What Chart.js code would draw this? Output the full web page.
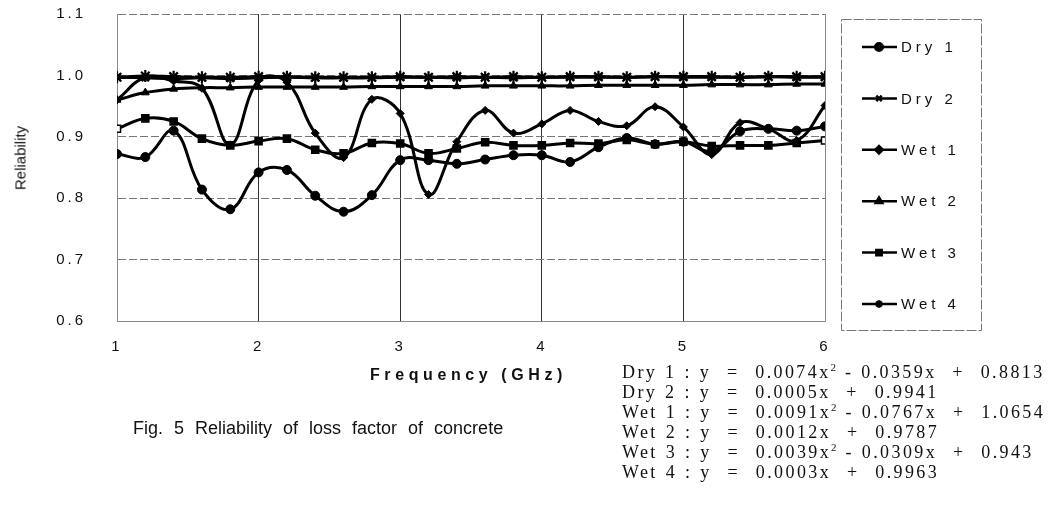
<!DOCTYPE html>
<html>
<head>
<meta charset="utf-8">
<script src="https://cdn.jsdelivr.net/npm/chart.js@4.4.1/dist/chart.umd.min.js"></script>
<style>
html,body{margin:0;padding:0;background:#fff;}
#wrap{position:relative;width:1052px;height:510px;overflow:hidden;}
#c{position:absolute;left:0;top:0;}
.t{position:absolute;white-space:pre;color:#111;}
#ytitle{left:20px;top:158px;font:15px "Liberation Sans",Arial,sans-serif;transform:translate(-50%,-50%) rotate(-90deg);}
#xtitle{left:370px;top:365px;font:bold 16px "Liberation Sans",Arial,sans-serif;letter-spacing:4.6px;line-height:20px;}
#cap{left:133px;top:417px;font:18px "Liberation Sans",Arial,sans-serif;word-spacing:6px;line-height:22px;}
#eqs{position:absolute;left:622px;top:362px;font:18px "Liberation Serif","Times New Roman",serif;line-height:20px;color:#111;letter-spacing:2.4px;word-spacing:1px;}
#eqs div{white-space:pre;height:20px;line-height:20px;}
#eqs sup{font-size:11px;line-height:0;vertical-align:7px;letter-spacing:1px;}
</style>
</head>
<body>
<div id="wrap">
<canvas id="c" width="1052" height="510"></canvas>
<div class="t" id="ytitle">Reliability</div>
<div class="t" id="xtitle">Frequency (GHz)</div>
<div class="t" id="cap">Fig. 5 Reliability of loss factor of concrete</div>
<div id="eqs"></div>
</div>
<script>
// ---- data ----
const freq = [1.0,1.2,1.4,1.6,1.8,2.0,2.2,2.4,2.6,2.8,3.0,3.2,3.4,3.6,3.8,4.0,4.2,4.4,4.6,4.8,5.0,5.2,5.4,5.6,5.8,6.0];
const dry1 = [0.872,0.867,0.910,0.814,0.782,0.842,0.846,0.804,0.778,0.805,0.862,0.862,0.856,0.863,0.870,0.870,0.859,0.883,0.898,0.888,0.892,0.876,0.909,0.913,0.910,0.917];
const dry2 = [0.997,0.996,0.995,0.996,0.995,0.996,0.997,0.996,0.996,0.996,0.997,0.997,0.996,0.997,0.996,0.997,0.997,0.997,0.997,0.998,0.997,0.997,0.997,0.998,0.997,0.997];
const wet1 = [0.960,0.997,0.991,0.979,0.887,0.992,0.989,0.906,0.866,0.961,0.938,0.806,0.892,0.943,0.906,0.921,0.943,0.925,0.918,0.949,0.916,0.871,0.923,0.913,0.894,0.951];
const wet2 = [0.960,0.972,0.978,0.980,0.980,0.981,0.981,0.981,0.981,0.982,0.982,0.982,0.982,0.983,0.983,0.983,0.983,0.984,0.984,0.984,0.984,0.985,0.985,0.985,0.986,0.986];
const wet3 = [0.913,0.930,0.925,0.897,0.886,0.893,0.897,0.879,0.873,0.890,0.889,0.873,0.881,0.891,0.886,0.886,0.890,0.889,0.895,0.888,0.892,0.885,0.886,0.886,0.890,0.894];
const wet4 = [0.997,0.999,0.998,0.997,0.997,0.998,0.998,0.997,0.997,0.997,0.998,0.997,0.998,0.997,0.998,0.997,0.998,0.998,0.997,0.998,0.998,0.998,0.997,0.998,0.998,0.998];
const seriesNames = ["Dry 1","Dry 2","Wet 1","Wet 2","Wet 3","Wet 4"];
const xTicks = [1,2,3,4,5,6];
const yTicks = [0.6,0.7,0.8,0.9,1.0,1.1];
const equations = [
  ["Dry 1", "0.0074x", "2", " - 0.0359x  +  0.8813"],
  ["Dry 2", "0.0005x  +  0.9941", "", ""],
  ["Wet 1", "0.0091x", "2", " - 0.0767x  +  1.0654"],
  ["Wet 2", "0.0012x  +  0.9787", "", ""],
  ["Wet 3", "0.0039x", "2", " - 0.0309x  +  0.943"],
  ["Wet 4", "0.0003x  +  0.9963", "", ""]
];

// equations as real text
const eqBox = document.getElementById('eqs');
equations.forEach(e => {
  const d = document.createElement('div');
  d.appendChild(document.createTextNode(e[0] + " : y  =  " + e[1]));
  if (e[2]) {
    const s = document.createElement('sup');
    s.textContent = e[2];
    d.appendChild(s);
    d.appendChild(document.createTextNode(e[3]));
  }
  eqBox.appendChild(d);
});

const styles = [
  {pointStyle:'circle', pointRadius:4.5, pointBorderWidth:1},
  {pointStyle:'crossRot', pointRadius:5, pointBorderWidth:2},
  {pointStyle:'rectRot', pointRadius:4, pointBorderWidth:1},
  {pointStyle:'triangle', pointRadius:4.5, pointBorderWidth:1},
  {pointStyle:'rect', pointRadius:5, pointBorderWidth:1.5},
  {pointStyle:'star', pointRadius:6, pointBorderWidth:2.2}
];
const values = [dry1, dry2, wet1, wet2, wet3, wet4];

const datasets = values.map((v, k) => ({
  label: seriesNames[k],
  data: freq.map((f, i) => ({x: f, y: v[i]})),
  borderColor: '#000',
  backgroundColor: '#000',
  borderWidth: 3,
  tension: 0.4,
  pointStyle: styles[k].pointStyle,
  pointRadius: styles[k].pointRadius,
  pointBorderWidth: styles[k].pointBorderWidth,
  pointBorderColor: '#000',
  pointBackgroundColor: k === 4 ? freq.map((f, i) => (i === 0 || i === freq.length - 1) ? '#fff' : '#000') : '#000'
}));

const spacingPlugin = {
  id: 'spacing',
  beforeDraw(chart) { chart.ctx.letterSpacing = '3px'; }
};

const legendPlugin = {
  id: 'boxLegend',
  afterDraw(chart) {
    const ctx = chart.ctx;
    ctx.save();
    ctx.strokeStyle = '#777';
    ctx.lineWidth = 1;
    ctx.setLineDash([10, 2]);
    ctx.strokeRect(841.5, 19.5, 140, 311);
    ctx.setLineDash([]);
    chart.data.datasets.forEach((ds, i) => {
      const y = 47 + i * 51.4;
      ctx.strokeStyle = '#000';
      ctx.fillStyle = '#000';
      ctx.lineWidth = 2.5;
      ctx.beginPath(); ctx.moveTo(862, y); ctx.lineTo(897, y); ctx.stroke();
      Chart.helpers.drawPoint(ctx, {pointStyle: ds.pointStyle, radius: Math.min(ds.pointRadius, 3.8), rotation: 0, borderWidth: ds.pointBorderWidth}, 879, y);
      ctx.letterSpacing = '4px';
      ctx.font = '15px "Liberation Sans", Arial, sans-serif';
      ctx.textBaseline = 'middle';
      ctx.textAlign = 'left';
      ctx.fillStyle = '#111';
      ctx.fillText(ds.label, 901, y + 1);
    });
    ctx.restore();
  }
};

new Chart(document.getElementById('c'), {
  type: 'line',
  data: {datasets},
  options: {
    responsive: false,
    animation: false,
    devicePixelRatio: 1,
    layout: {padding: {top: 14, right: 227, bottom: 0, left: 0}},
    plugins: {legend: {display: false}, tooltip: {enabled: false}},
    scales: {
      x: {
        type: 'linear', min: 1, max: 6,
        afterFit: s => { s.height = 189; s.paddingLeft = 0; s.paddingRight = 0; s.paddingTop = 0; s.paddingBottom = 0; },
        afterBuildTicks: s => { s.ticks = xTicks.map(v => ({value: v})); },
        ticks: {color: '#111', font: {size: 15, family: '"Liberation Sans", Arial, sans-serif'}, padding: 17, callback: v => String(v)},
        grid: {color: ctx => (ctx.tick && ctx.tick.value === 6) ? '#888' : '#333', lineWidth: 1, drawTicks: false},
        border: {display: true, color: '#888', width: 1}
      },
      y: {
        min: 0.6, max: 1.1,
        afterFit: s => { s.width = 117; s.paddingTop = 0; s.paddingBottom = 0; s.paddingLeft = 0; s.paddingRight = 0; },
        afterBuildTicks: s => { s.ticks = yTicks.map(v => ({value: v})); },
        ticks: {color: '#111', font: {size: 15, family: '"Liberation Sans", Arial, sans-serif'}, padding: 31, callback: v => Number(v).toFixed(1)},
        grid: {color: '#777', lineWidth: 1, drawTicks: false},
        border: {display: true, color: '#888', width: 1, dash: [8, 3]}
      }
    }
  },
  plugins: [spacingPlugin, legendPlugin]
});
</script>
</body>
</html>
